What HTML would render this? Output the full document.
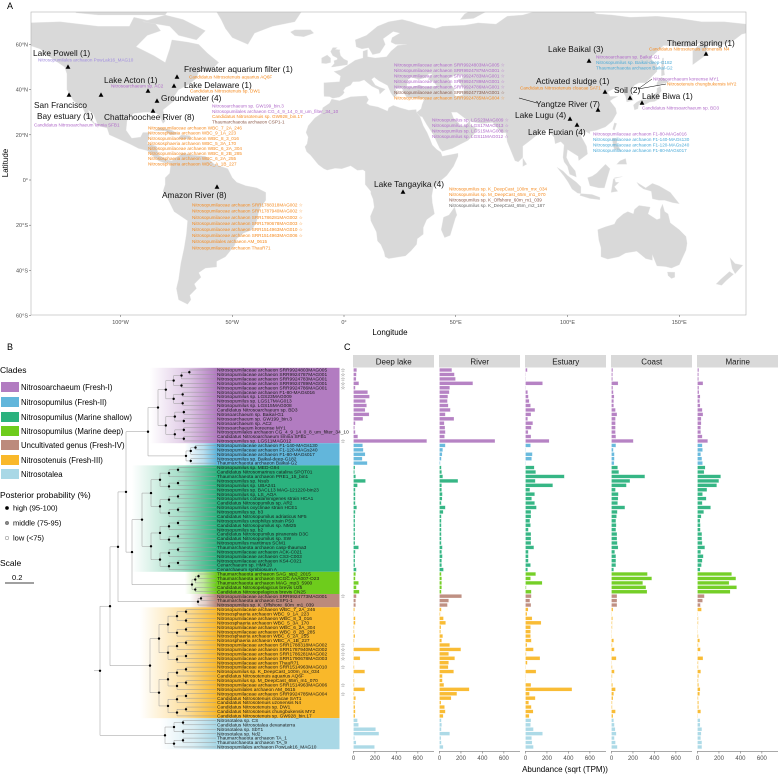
<!DOCTYPE html>
<html><head><meta charset="utf-8">
<style>
html,body{margin:0;padding:0;background:#fff;}
svg{display:block;font-family:"Liberation Sans",Arial,sans-serif;}
</style></head>
<body>
<svg id="fig" width="779" height="777" viewBox="0 0 779 777" xmlns="http://www.w3.org/2000/svg">
<defs><clipPath id="mapclip"><rect x="31" y="12" width="715" height="303"/></clipPath></defs>
<g id="mapg"></g>
<g id="treeg"></g>
<g id="barg"></g>
</svg>
<script>
const NS="http://www.w3.org/2000/svg";
function mk(parent,tag,attrs,text){const e=document.createElementNS(NS,tag);for(const k in attrs)e.setAttribute(k,attrs[k]);if(text!==undefined)e.textContent=text;parent.appendChild(e);return e;}

/* ================= MAP ================= */
const mapg=document.getElementById('mapg');
const lx=lon=>344+lon*2.235, ly=lat=>180-lat*2.26;
const landPolys=[
[[-166,68.5],[-156,71.3],[-140,69.6],[-127,70],[-110,68],[-96,68],[-94,72],[-85,70],[-82,66],[-88,64],[-93,59],[-85,55],[-80,52],[-78,58],[-77,62],[-70,61],[-65,60],[-61,56],[-56,52],[-60,48],[-65,48],[-66,45],[-70,42],[-74,40],[-76,37],[-76,35],[-81,31],[-80,26],[-81,25],[-83,29],[-85,30],[-89,30],[-94,29.5],[-97,27],[-97.5,22],[-95,18.5],[-91,19],[-90,21],[-87,21],[-88,16],[-84,15],[-83,11],[-79,9],[-77,8],[-80,7.5],[-83,8.5],[-86,11],[-88,13],[-92,14],[-96,16],[-105,20],[-106,23],[-110,24],[-112,29],[-114.5,31],[-113,27],[-110,23],[-112,25],[-115,28],[-117,32],[-121,35],[-124,40],[-124,47],[-125,50],[-131,54],[-136,58],[-142,60],[-148,60],[-152,58],[-158,56],[-164,55],[-158,58],[-162,60],[-165,62],[-164,64],[-166,66]],
[[-120,74],[-118,77],[-100,79],[-90,81],[-70,83],[-62,82],[-78,76],[-80,73],[-90,73],[-100,73],[-110,73]],
[[-80,73],[-72,71],[-62,66],[-66,62],[-74,64],[-78,68],[-90,70]],
[[-73,78],[-60,82],[-30,83.5],[-20,81],[-18,76],[-22,70],[-32,68],[-40,65],[-43,60],[-50,63],[-53,67],[-55,71],[-58,76],[-68,77]],
[[-24,65.5],[-22,66.4],[-15,66.5],[-13.5,65],[-18,63.4],[-22,63.8]],
[[-80,9],[-77,8.5],[-72,12],[-68,11],[-62,10.5],[-58,7],[-52,5],[-50,1],[-48,-1],[-44,-2.5],[-39,-3.5],[-35,-5.5],[-35,-9],[-38,-13],[-39,-18],[-41,-22],[-45,-23.5],[-48,-26],[-49,-29],[-53,-34],[-57,-36],[-57,-38.5],[-62,-39],[-65,-41],[-64,-43],[-67,-46],[-66,-48],[-69,-51],[-68.5,-53],[-70,-55],[-74,-53],[-75,-48],[-74,-44],[-73,-37],[-71.5,-30],[-70.5,-24],[-70,-18],[-76,-14],[-79,-8],[-81,-5],[-80,-2],[-80,1],[-78,3],[-77.5,7]],
[[-9,38.7],[-9,43],[-2,43.5],[-1.5,46],[-4.5,48],[-1.5,48.7],[2,51],[5,53],[8.5,54],[8.5,57],[10.5,57.7],[10.5,54.5],[14,54],[19,54.5],[21,57],[24,59.5],[28,60],[23,60],[21,61],[21.5,63],[25,65],[22,65.7],[17.5,62.5],[18.5,60],[16,56.2],[12.8,55.5],[11,58.5],[8,58],[5.5,58.9],[5,62],[10,64],[15,68],[20,70],[26,71],[30,70],[33,69],[41,67],[44,68],[54,68.5],[60,69.5],[68,69],[73,72.5],[80,73],[87,75],[100,77.5],[105,78],[113,73.5],[120,73],[128,72],[140,72.5],[150,71.5],[160,70],[170,70],[180,69],[180,65],[178,64.5],[174,61.5],[170,60],[163,59.5],[162,57],[163,56],[156,51],[156,57],[160,61],[155,59],[143,59.5],[137,54],[140,51],[140,48],[135,43],[132,43],[130,42],[128,39],[129.5,35.2],[126.5,34.5],[126,37],[124.5,39.5],[122,39],[121.5,40.8],[118,39],[119,37],[122.5,37],[120.5,36],[119,35],[121.5,31.8],[122,29.5],[120,26],[117,23.5],[113,22],[110,21.5],[110,20.5],[108,21.5],[106,19.5],[108.5,15],[109,11.5],[105,8.6],[104.8,10.5],[100,13.5],[99.5,10],[101,7],[103.5,4],[104,1.3],[101,2.5],[100,6],[98.5,8],[98,10],[98.5,15.5],[97,17],[94.5,16],[94,19],[92,21],[92,22.5],[90,22],[87,21.5],[86.5,20],[84,18],[82,16.5],[80,15],[80,10],[78,8],[76.5,8.5],[73,17],[72.5,21],[70.5,20.8],[68,23.7],[66.5,25.5],[62,25],[57,25.8],[54.5,27],[50.5,30],[48,30],[49,27.5],[51.5,25],[51.5,24],[54,24],[56.3,26.2],[56.5,24.5],[59.8,22.5],[57,18.9],[55.5,17.5],[52.5,16],[48.5,14],[44,12.7],[42.8,14],[40,20],[37,24.5],[35,28],[34,28.2],[32.5,29.9],[34.5,31.5],[35,33.5],[36,36],[32,36.2],[28,36.7],[26.5,39],[26.2,40.3],[26,40.6],[23,40.5],[24,38],[22.5,36.5],[21,38.5],[19.5,41.8],[15.5,44],[13.5,45.5],[12.3,44.5],[14,42],[16,41],[18.5,40.2],[16,38],[15.6,40],[12.5,41.5],[10.5,43],[9,44.3],[7,43.6],[4,43.5],[3,42],[0.8,41],[-0.3,39.5],[0.2,38.7],[-0.7,37.6],[-2.1,36.7],[-5,36.2],[-6.5,36.9],[-8.9,37]],
[[-17,21],[-16,24],[-13,27.5],[-10,29.5],[-9.5,32],[-6.5,34],[-5.5,35.8],[-2,35.1],[3,36.8],[10,37.2],[11,35.5],[10,34],[11.5,33],[15.2,32.3],[19.5,30.5],[20,32],[22,33],[25,32],[29,30.9],[32.3,31.2],[32.5,29.9],[34,28],[35.5,24],[37.2,21],[38.5,18],[39.5,15.5],[41.5,13.5],[43.3,12.3],[44,10.5],[51,11.8],[51,10.5],[49,6],[46,2],[43,-0.5],[40,-3],[39.3,-7],[39.5,-10],[40.5,-15],[37,-17.5],[35.5,-21],[35.5,-24],[32.8,-26],[32.5,-28.5],[30,-31.3],[27.5,-33.6],[25,-34],[20,-34.8],[18.4,-34],[18,-32],[16.5,-28.6],[15,-27],[14.5,-23],[12,-18],[11.8,-16],[13.5,-12],[13,-8.5],[12,-6],[12,-5],[9.5,-2],[9.5,1],[9.5,3.8],[8.5,4.5],[6,4.3],[3,6.3],[-1,5],[-4,5.2],[-7.5,4.4],[-9,5],[-11.5,6.8],[-13.3,9],[-15,11],[-16.7,12.5],[-17.5,14.7],[-16.5,16],[-16,19]],
[[49.5,-12],[50.5,-15.5],[49.8,-17],[47.5,-24.5],[45,-25.5],[43.5,-22],[44.5,-16.5],[47,-15.5]],
[[-5,50],[1.5,51],[1.7,52.7],[0,53.5],[-1.5,55],[-2,57],[-1.8,57.6],[-4,57.8],[-3,58.6],[-5,58.6],[-6,56.8],[-5,55],[-3,54],[-3,53.3],[-4.5,52.8],[-4.3,51.6],[-5.7,50]],
[[-6,52],[-6,54],[-7.5,55.3],[-10,54],[-10,51.7],[-8,51.5]],
[[130,31],[131.5,31.5],[132,33.8],[135,33.5],[136.8,34.5],[139,34.8],[140.8,35.8],[141,38],[142,39.5],[141.5,41.5],[140,40.5],[140,39],[139,38],[137,37],[135.5,35.5],[133,35.5],[131,34.5],[129.5,33.2]],
[[140,41.5],[141.5,42.5],[144,43],[145.5,43.4],[142,45.5],[141.5,45],[140,43]],
[[142,46],[143.5,46.5],[143,50],[143,54],[142.5,54],[142,50]],
[[120.2,22.5],[121,22],[122,25],[121,25.3]],
[[80,6],[81.8,7],[80,9.8]],
[[95.3,5.6],[98,4],[100,2],[104,-1],[106,-3],[106,-6],[104.5,-5.8],[102,-4],[100.3,-1],[98.5,1.7]],
[[105.5,-6.8],[106,-6],[111,-6.4],[114.5,-7.7],[114.5,-8.7],[110,-8.2]],
[[109,1],[110,-2.5],[114,-3.5],[116.5,-3.5],[117.8,1],[119,5],[117,7],[115,5],[113,3],[111,1.7]],
[[119.5,-5.5],[120.5,0.5],[124.5,1.5],[121,1],[121.5,-1],[123,-1],[121,-3],[122.5,-5]],
[[131,-1],[135,-3.5],[138,-1.5],[141,-2.6],[146,-5.5],[150,-10.5],[147,-10],[143.5,-9],[141,-9],[138,-8.3],[137.5,-5],[134,-4],[132,-2.5]],
[[120,18.5],[122.3,18.5],[122,16],[124,13],[121,13.5],[120.5,15]],
[[122,7],[126.5,7],[126,9.5],[123.5,8.5]],
[[113.5,-22],[114,-26.5],[115,-30],[115,-34],[118,-35],[123,-34],[126,-32.3],[131,-31.5],[135,-34.8],[138,-35.5],[138,-33],[140,-38],[144,-38.3],[146.5,-39],[150,-37.5],[153,-31],[153.5,-28],[153,-25],[150,-22],[146,-19],[145,-15],[143.5,-14],[142.5,-10.7],[141.5,-13],[141.5,-17],[140,-17.5],[136,-15],[137,-12],[132,-11.3],[130,-13],[129.5,-15],[127,-14],[125,-15],[122,-17.5],[121,-19.5],[117,-20.7]],
[[144.7,-40.7],[148,-40.8],[148,-43],[146.5,-43.6],[145,-42.3]],
[[172.7,-34.4],[175,-37],[178.5,-37.7],[177,-39.3],[175,-41.5],[173.7,-39.2]],
[[172.5,-40.5],[174.3,-41.7],[171,-44.5],[169,-46.6],[166.5,-46],[168.5,-44]],
[[11,78.5],[17,80],[27,80],[21,77],[16,76.6]],
[[52,71],[58,71.5],[68,76.8],[60,76.5],[54,73.5]],
[[-85,21.9],[-82,23.1],[-77,22],[-74.2,20.2],[-77.7,19.9],[-80,21.8]],
[[-74.5,18.3],[-72.8,19.9],[-69,19.6],[-68.4,18.5],[-71,18],[-72.5,18.2]],
[[-75,-63],[-58,-62],[-50,-65],[-60,-70],[-80,-70]]
];
const waterPolys=[
[[28,41.2],[28.7,44.5],[30,45.5],[33.5,44.5],[36.5,45.2],[38,47],[39.5,47],[37.5,44.5],[40,43.5],[41.5,41.6],[36,41.3],[34,42],[31,41.2]],
[[47,45],[50,46.5],[53,46.8],[53,45],[51,44.5],[52.5,42],[53.8,40.5],[53,37.5],[50,37],[49,38.5],[49.5,40.3],[48,42],[47.5,43.5]]
];
mk(mapg,'rect',{x:31,y:12,width:715,height:303,fill:'#ffffff',});
const landG=mk(mapg,'g',{'clip-path':'url(#mapclip)',});
landPolys.forEach(p=>mk(landG,'polygon',{points:p.map(q=>lx(q[0]).toFixed(1)+','+ly(q[1]).toFixed(1)).join(' '),fill:'#d9d9d9',stroke:'#e6e6e6','stroke-width':0.3}));
waterPolys.forEach(p=>mk(landG,'polygon',{points:p.map(q=>lx(q[0]).toFixed(1)+','+ly(q[1]).toFixed(1)).join(' '),fill:'#ffffff'}));
mk(mapg,'rect',{x:31,y:12,width:715,height:303,fill:'none',stroke:'#b3b3b3','stroke-width':0.6,});

const latTicks=[60,40,20,0,-20,-40,-60];
const latLabels=['60°N','40°N','20°N','0°','20°S','40°S','60°S'];
latTicks.forEach((t,i)=>{mk(mapg,'line',{x1:29,x2:31,y1:ly(t),y2:ly(t),stroke:'#555','stroke-width':0.5});
 const e=mk(mapg,'text',{x:28,y:ly(t)+2,'font-size':5.5,fill:'#4d4d4d','text-anchor':'end'},latLabels[i]);
 });
const lonTicks=[-100,-50,0,50,100,150];
const lonLabels=['100°W','50°W','0°','50°E','100°E','150°E'];
lonTicks.forEach((t,i)=>{mk(mapg,'line',{x1:lx(t),x2:lx(t),y1:315,y2:317,stroke:'#555','stroke-width':0.5});
 const e=mk(mapg,'text',{x:lx(t),y:324,'font-size':5.5,fill:'#4d4d4d','text-anchor':'middle'},lonLabels[i]);
 });
mk(mapg,'text',{x:390,y:335,'font-size':8,fill:'#000','text-anchor':'middle',},'Longitude');
mk(mapg,'text',{x:8,y:163,'font-size':8,fill:'#000','text-anchor':'middle',transform:'rotate(-90 8 163)',},'Latitude');
mk(mapg,'text',{x:7,y:9,'font-size':9,fill:'#000',},'A');

const triangles=[[68,67],[148,91],[177,77],[174,86],[157,101],[69,95],[101,95],[153,111],[217,187],[403,192],[589,61],[706,54],[605,92],[630,98],[642,103],[598,110],[570,119],[577,125]];
triangles.forEach(t=>{const e=mk(mapg,'polygon',{points:`${t[0]},${t[1]-2.6} ${t[0]-2.4},${t[1]+1.8} ${t[0]+2.4},${t[1]+1.8}`,fill:'#000'});
 });
const bigLabels=[['Lake Powell (1)',33,53],['Lake Acton (1)',104,80],['Freshwater aquarium filter (1)',184,69],['Lake Delaware (1)',184,85],['Groundwater (4)',161,98],['San Francisco',34,105],['Bay estuary (1)',37,116],['Chattahoochee River (8)',104,117],['Amazon River (8)',162,195],['Lake Tangayika (4)',374,184],['Lake Baikal (3)',548,49],['Thermal spring (1)',667,43],['Activated sludge (1)',536,81],['Soil (2)',614,90],['Lake Biwa (1)',642,96],['Yangtze River (7)',536,104],['Lake Lugu (4)',515,115],['Lake Fuxian (4)',528,132]];
bigLabels.forEach(b=>{const e=mk(mapg,'text',{x:b[1],y:b[2]+3,'font-size':8.3,fill:'#111'},b[0]);
 });
const P='#b069c9',O='#f58a1f',BL='#4aaad8',BR='#8b5a4a',G='#666',LV='#a08ce0';
const smallLists=[
[38,60,5.4,[['Nitrosopumilales archaeon PowLak16_MAG10',LV]]],
[111,86,5.4,[['Nitrosoarchaeum sp. AC2',P]]],
[189,77,5.4,[['Candidatus Nitrosotenuis aquarius AQ6F',O]]],
[190,91,5.4,[['Candidatus Nitrosotenuis sp. DW1',O]]],
[212,106,5.3,[['Nitrosoarchaeum sp. GW199_bin.3',P],['Nitrosopumilales archaeon CG_4_9_14_0_8_um_filter_34_10',P],['Candidatus Nitrosotenuis sp. GW928_bin.17',O],['Thaumarchaeota archaeon CSP1-1',BR]]],
[34,125,5.4,[['Candidatus Nitrosoarchaeum limnia SFB1',P]]],
[148,128,5.1,[['Nitrosopumilaceae archaeon WBC_7_2A_246',O],['Nitrososphaeria archaeon WBC_9_1A_223',O],['Nitrosopumilaceae archaeon WBC_8_3_016',O],['Nitrososphaeria archaeon WBC_5_3A_170',O],['Nitrosopumilaceae archaeon WBC_6_2A_304',O],['Nitrosopumilaceae archaeon WBC_8_2B_285',O],['Nitrososphaeria archaeon WBC_6_2A_255',O],['Nitrososphaeria archaeon WBC_A_1B_227',O]]],
[192,205,6.1,[['Nitrosopumilaceae archaeon SRR1788318MAG002 ☆',O],['Nitrosopumilaceae archaeon SRR1787940MAG002 ☆',O],['Nitrosopumilaceae archaeon SRR1786281MAG002 ☆',O],['Nitrosopumilaceae archaeon SRR1790678MAG003 ☆',O],['Nitrosopumilaceae archaeon SRR1514963MAG010 ☆',O],['Nitrosopumilaceae archaeon SRR1514963MAG006 ☆',O],['Nitrosopumilales archaeon AM_0615',O],['Nitrosopumilaceae archaeon ThauR71',O]]],
[449,189,5.5,[['Nitrosopumilus sp. K_DeepCast_100m_mx_034',O],['Nitrosopumilus sp. M_DeepCast_65m_m1_070',O],['Nitrosopumilus sp. K_Offshore_60m_m1_039',BR],['Nitrosopumilus sp. K_DeepCast_65m_m2_187',G]]],
[394,65,5.5,[['Nitrosopumilaceae archaeon SRR9924803MAG005 ☆',P],['Nitrosopumilaceae archaeon SRR9924787MAG001 ☆',P],['Nitrosopumilaceae archaeon SRR9924783MAG001 ☆',P],['Nitrosopumilaceae archaeon SRR9924789MAG001 ☆',P],['Nitrosopumilaceae archaeon SRR9924786MAG001 ☆',P],['Nitrosopumilaceae archaeon SRR9924773MAG001 ☆',BR],['Nitrosopumilaceae archaeon SRR9924785MAG004 ☆',O]]],
[596,57,5.5,[['Nitrosoarchaeum sp. Baikal-G1',P],['Nitrosopumilus sp. Baikal-deep-G182',BL],['Thaumarchaeota archaeon Baikal-G2',BL]]],
[649,49,5.4,[['Candidatus Nitrosotenuis uzonensis N4',O]]],
[520,88,5.4,[['Candidatus Nitrosotenuis cloacae SAT1',O]]],
[653,79,5.4,[['Nitrosoarchaeum koreense MY1',P]]],
[667,84,5.4,[['Nitrosotenuis chungbukensis MY2',O]]],
[642,108,5.4,[['Candidatus Nitrosoarchaeum sp. BD3',P]]],
[432,120,5.5,[['Nitrosopumilus sp. LGS23MAG009 ☆',P],['Nitrosopumilus sp. LGS17MAG013 ☆',P],['Nitrosopumilus sp. LGS15MAG008 ☆',P],['Nitrosopumilus sp. LGS11MAG012 ☆',P]]],
[593,134,5.4,[['Nitrosopumilaceae archaeon F1-80-MAGs016',P],['Nitrosopumilaceae archaeon F1-140-MAGs130',BL],['Nitrosopumilaceae archaeon F1-120-MAGs240',BL],['Nitrosopumilaceae archaeon F1-80-MAGs017',BL]]]
];
smallLists.forEach(l=>l[3].forEach((it,i)=>{const e=mk(mapg,'text',{x:l[0],y:l[1]+i*l[2]+1.6,'font-size':4.6,fill:it[1]},it[0]);
 }));
mk(mapg,'line',{x1:519,y1:98,x2:537,y2:103,stroke:'#000','stroke-width':0.6});
mk(mapg,'line',{x1:638,y1:89,x2:652,y2:79,stroke:'#000','stroke-width':0.5});
mk(mapg,'line',{x1:638,y1:89,x2:666,y2:84,stroke:'#000','stroke-width':0.5});

/* ================= DATA ================= */
const cladeNames=['Nitrosoarchaeum (Fresh-I)','Nitrosopumilus (Fresh-II)','Nitrosopumilus (Marine shallow)','Nitrosopumilus (Marine deep)','Uncultivated genus (Fresh-IV)','Nitrosotenuis (Fresh-III)','Nitrosotalea'];
const cladeColors=['#b27cc1','#62b6db','#2bb27e','#6ecc1c','#bc8a7c','#f9b82a','#a9d8e6'];
const cladeSizes=[17,5,24,5,3,25,7];
const leafNames=['Nitrosopumilaceae archaeon SRR9924803MAG005','Nitrosopumilaceae archaeon SRR9924787MAG001','Nitrosopumilaceae archaeon SRR9924783MAG001','Nitrosopumilaceae archaeon SRR9924789MAG001','Nitrosopumilaceae archaeon SRR9924786MAG001','Nitrosopumilaceae archaeon F1-80-MAGs016','Nitrosopumilus sp. LGS23MAG009','Nitrosopumilus sp. LGS17MAG013','Nitrosopumilus sp. LGS15MAG008','Candidatus Nitrosoarchaeum sp. BD3','Nitrosoarchaeum sp. Baikal-G1','Nitrosoarchaeum sp. GW199_bin.3','Nitrosoarchaeum sp. AC2','Nitrosoarchaeum koreense MY1','Nitrosopumilales archaeon CG_4_9_14_0_8_um_filter_34_10','Candidatus Nitrosoarchaeum limnia SFB1','Nitrosopumilus sp. LGS11MAG012',
'Nitrosopumilaceae archaeon F1-140-MAGs130','Nitrosopumilaceae archaeon F1-120-MAGs240','Nitrosopumilaceae archaeon F1-80-MAGs017','Nitrosopumilus sp. Baikal-deep-G182','Thaumarchaeota archaeon Baikal-G2',
'Nitrosopumilus sp. MED-G94','Candidatus Nitrosomarinus catalina SPOT01','Thaumarchaeota archaeon PRE1_15_bin1','Nitrosopumilus sp. Nsub','Nitrosopumilus sp. UBA241','Nitrosopumilus sp. BACL13 MAG-121220-bin23','Nitrosopumilus sp. LS_AOA','Nitrosopumilus cobalaminigenes strain HCA1','Candidatus Nitrosopumilus sp. AR2','Nitrosopumilus oxyclinae strain HCE1','Nitrosopumilus sp. b3','Candidatus Nitrosopumilus adriaticus NF5','Nitrosopumilus ureiphilus strain PS0','Candidatus Nitrosopumilus sp. NM25','Nitrosopumilus sp. b2','Candidatus Nitrosopumilus piranensis D3C','Candidatus Nitrosopumilus sp. SW','Nitrosopumilus maritimus SCM1','Thaumarchaeota archaeon casp-thauma3','Nitrosopumilaceae archaeon ACK-C021','Nitrosopumilaceae archaeon CS3-C003','Nitrosopumilaceae archaeon KS4-C021','Cenarchaeum sp. HMK20','Cenarchaeum symbiosum A',
'Thaumarchaeota archaeon SAG_sip2_2015','Thaumarchaeota archaeon SCGC AAA007-O23','Thaumarchaeota archaeon MAG_mp3_5900','Candidatus Nitrosopelagicus brevis U25','Candidatus Nitrosopelagicus brevis CN25',
'Nitrosopumilaceae archaeon SRR9924773MAG001','Thaumarchaeota archaeon CSP1-1','Nitrosopumilus sp. K_Offshore_60m_m1_039',
'Nitrosopumilaceae archaeon WBC_7_2A_246','Nitrososphaeria archaeon WBC_9_1A_223','Nitrosopumilaceae archaeon WBC_8_3_016','Nitrososphaeria archaeon WBC_5_3A_170','Nitrosopumilaceae archaeon WBC_6_2A_304','Nitrosopumilaceae archaeon WBC_8_2B_285','Nitrososphaeria archaeon WBC_6_2A_255','Nitrososphaeria archaeon WBC_A_1B_227','Nitrosopumilaceae archaeon SRR1788318MAG002','Nitrosopumilaceae archaeon SRR1787940MAG002','Nitrosopumilaceae archaeon SRR1786281MAG002','Nitrosopumilaceae archaeon SRR1790678MAG003','Nitrosopumilaceae archaeon ThauR71','Nitrosopumilaceae archaeon SRR1514963MAG010','Nitrosopumilus sp. K_DeepCast_100m_mx_034','Candidatus Nitrosotenuis aquarius AQ6F','Nitrosopumilus sp. M_DeepCast_65m_m1_070','Nitrosopumilaceae archaeon SRR1514963MAG006','Nitrosopumilales archaeon AM_0615','Nitrosopumilaceae archaeon SRR9924785MAG004','Candidatus Nitrosotenuis cloacae SAT1','Candidatus Nitrosotenuis uzonensis N4','Candidatus Nitrosotenuis sp. DW1','Candidatus Nitrosotenuis chungbukensis MY2','Candidatus Nitrosotenuis sp. GW928_bin.17',
'Nitrosotalea sp. CS','Candidatus Nitrosotalea devanaterra','Nitrosotalea sp. SbT1','Nitrosotalea sp. Nd2','Thaumarchaeota archaeon TA_1','Thaumarchaeota archaeon TA_9','Nitrosopumilales archaeon PowLak16_MAG10'];
const starred=[0,1,2,3,4,16,51,62,63,64,65,67,71,73];
const facetNames=['Deep lake','River','Estuary','Coast','Marine'];
const deepLake=[30,27,24,50,17,132,149,112,122,108,145,88,17,10,17,40,683, 85,91,108,81,128, 14,10,20,112,37,17,17,17,17,30,17,14,14,14,14,14,14,14,47,17,14,14,14,27, 20,17,47,27,54, 27,20,20, 10,0,17,17,7,7,14,7,3,243,3,61,0,7,105,3,7,7,105,7,20,10,14,17,14, 37,47,206,237,10,24,196];
const river=[115,139,149,311,95,91,78,74,81,101,54,135,44,51,54,47,517, 54,30,24,17,7, 17,20,30,172,20,20,27,24,17,54,34,17,17,17,17,17,17,17,27,20,27,20,20,37, 17,20,20,20,17, 206,85,74, 17,7,37,57,14,10,30,20,95,199,85,142,85,81,132,27,27,41,277,162,108,14,47,54,34, 17,20,17,95,14,17,34];
const estuary=[17,3,3,159,3,20,27,34,47,88,51,20,68,54,24,51,220, 47,3,64,57,2, 81,95,362,91,254,41,85,57,85,102,51,51,41,47,27,51,51,51,78,27,27,27,47,20, 95,47,155,7,54, 54,41,51, 24,14,61,145,47,47,47,54,14,74,7,135,17,3,98,3,0,51,433,37,91,30,54,71,34, 51,47,74,159,57,61,74];
const coast=[13,10,10,61,13,17,24,20,20,37,51,37,37,37,37,41,203, 41,17,27,27,24, 57,68,311,172,139,37,64,61,57,125,54,47,41,44,41,51,51,54,61,30,41,41,41,20, 335,375,291,321,331, 51,51,51, 14,0,10,7,7,3,3,20,7,27,0,44,3,7,27,7,3,10,37,20,14,7,7,37,14, 20,27,34,44,27,37,54];
const marine=[13,10,10,51,13,14,24,20,24,44,51,34,34,30,30,44,95, 44,47,30,41,47, 71,61,216,199,179,88,47,81,44,122,58,34,24,27,27,41,41,44,68,30,54,44,37,24, 318,358,294,365,304, 64,47,27, 37,3,7,7,3,3,7,20,7,27,3,51,7,7,30,10,7,10,24,20,7,10,10,30,3, 24,24,41,34,30,41,41];
const facetValues=[deepLake,river,estuary,coast,marine];
const xTicks=[0,200,400,600];

const N=leafNames.length;
const rowY=i=>370+i*4.435;
const cladeOf=[];cladeSizes.forEach((s,c)=>{for(let k=0;k<s;k++)cladeOf.push(c);});
const cladeStart=[];{let s=0;cladeSizes.forEach(v=>{cladeStart.push(s);s+=v;});}

/* ================= TREE ================= */
const treeg=document.getElementById('treeg');
mk(treeg,'text',{x:7,y:350,'font-size':9,fill:'#000',},'B');
const bandStart=[150,185,132,185,190,140,160];
cladeColors.forEach((c,k)=>{
  const g=mk(document.querySelector('defs'),'linearGradient',{id:'gr'+k,x1:0,x2:1,y1:0,y2:0});
  mk(g,'stop',{offset:0,'stop-color':c,'stop-opacity':0});
  mk(g,'stop',{offset:0.6,'stop-color':c,'stop-opacity':0.45});
  mk(g,'stop',{offset:1,'stop-color':c,'stop-opacity':1});
  const y0=rowY(cladeStart[k])-2.2, h=cladeSizes[k]*4.435;
  const e1=mk(treeg,'rect',{x:bandStart[k],y:y0,width:216-bandStart[k],height:h,fill:'url(#gr'+k+')'});
  
  const e2=mk(treeg,'rect',{x:216,y:y0,width:123.5,height:h,fill:c});
  
});
const edgeG=mk(treeg,'g',{stroke:'#9a9a9a','stroke-width':0.5,fill:'none'});
const dots=[];
function sub(lo,hi,x){
  if(lo===hi) return {x:216,y:rowY(lo)};
  const mid=Math.floor((lo+hi)/2);
  const depth=Math.ceil(Math.log2(hi-lo+1));
  const step=Math.max(3,Math.min(9,(205-x)/(depth+1)));
  const a=sub(lo,mid,x+step), b=sub(mid+1,hi,x+step);
  mk(edgeG,'line',{x1:x,x2:x,y1:a.y,y2:b.y});
  mk(edgeG,'line',{x1:x,x2:a.x,y1:a.y,y2:a.y});
  mk(edgeG,'line',{x1:x,x2:b.x,y1:b.y,y2:b.y});
  const y=(a.y+b.y)/2; dots.push([x,y]); return {x:x,y:y};
}
function join(a,b,x){mk(edgeG,'line',{x1:x,x2:x,y1:a.y,y2:b.y});mk(edgeG,'line',{x1:x,x2:a.x,y1:a.y,y2:a.y});mk(edgeG,'line',{x1:x,x2:b.x,y1:b.y,y2:b.y});const y=(a.y+b.y)/2;dots.push([x,y]);return {x:x,y:y};}
const cr=[158,186,142,192,198,150,165];
const roots=cladeSizes.map((s,k)=>sub(cladeStart[k],cladeStart[k]+s-1,cr[k]));
const A=join(roots[0],roots[1],148), B=join(roots[2],roots[3],132), C=join(A,B,126), D=join(C,roots[4],118), E=join(D,roots[5],110), R=join(E,roots[6],100);
mk(edgeG,'line',{x1:94,x2:100,y1:R.y,y2:R.y});
dots.forEach(d=>{const e=mk(treeg,'circle',{cx:d[0],cy:d[1],r:1.2,fill:'#000'});});
leafNames.forEach((n,i)=>{const e=mk(treeg,'text',{x:217,y:rowY(i)+1.6,'font-size':4.8,fill:'#1a1a1a'},n);
  });
starred.forEach(i=>{const e=mk(treeg,'text',{x:340.5,y:rowY(i)+2,'font-size':5.5,fill:'#555'},'☆');
  });
// legend
mk(treeg,'text',{x:0,y:373,'font-size':8.5,fill:'#000',},'Clades');
const legY=[387,402,417,431,445,460,474];
cladeNames.forEach((n,k)=>{
  const r=mk(treeg,'rect',{x:1,y:legY[k]-5,width:18,height:10,fill:cladeColors[k]});
  
  const t=mk(treeg,'text',{x:21,y:legY[k]+3,'font-size':7.8,fill:'#000'},n);
  
});
mk(treeg,'text',{x:0,y:498,'font-size':8.5,fill:'#000',},'Posterior probability (%)');
[['high (95-100)','#000',508],['middle (75-95)','#888',523],['low (<75)','#fff',538]].forEach(p=>{
  const c=mk(treeg,'circle',{cx:7,cy:p[2],r:1.8,fill:p[1],stroke:'#555','stroke-width':0.4});
  
  const t=mk(treeg,'text',{x:13,y:p[2]+2.6,'font-size':7.5,fill:'#000'},p[0]);
  
});
mk(treeg,'text',{x:0,y:566,'font-size':8.5,fill:'#000',},'Scale');
mk(treeg,'text',{x:12,y:580,'font-size':7.5,fill:'#000',},'0.2');
mk(treeg,'line',{x1:5,x2:34,y1:583,y2:583,stroke:'#000','stroke-width':0.7,});

/* ================= BARS ================= */
const barg=document.getElementById('barg');
mk(barg,'text',{x:344,y:350,'font-size':9,fill:'#000',},'C');
const facetX0=[353.5,439.5,525.5,611.5,697.5], facetW=80.5, pxPer=0.1073;
facetNames.forEach((f,fi)=>{
  const x0=facetX0[fi];
  const hd=mk(barg,'rect',{x:x0-0.5,y:355,width:facetW+0.5,height:12.5,fill:'#d9d9d9'});
  
  const ht=mk(barg,'text',{x:x0+facetW/2,y:364.5,'font-size':8,fill:'#1a1a1a','text-anchor':'middle'},f);
  
  const vals=facetValues[fi];
  vals.forEach((v,i)=>{
    const b=mk(barg,'rect',{x:x0,y:rowY(i)-1.8,width:Math.max(0.3,v*pxPer),height:3.6,fill:cladeColors[cladeOf[i]],stroke:'#fff','stroke-width':0.2,'fill-opacity':0.95});
    
  });
  mk(barg,'line',{x1:x0-0.5,x2:x0+facetW,y1:751.5,y2:751.5,stroke:'#555','stroke-width':0.6});
  xTicks.forEach(t=>{const tx=x0+t*pxPer;
    mk(barg,'line',{x1:tx,x2:tx,y1:751.5,y2:753.5,stroke:'#555','stroke-width':0.5});
    const e=mk(barg,'text',{x:tx,y:760,'font-size':6,fill:'#4d4d4d','text-anchor':'middle'},String(t));
    });
});
mk(barg,'text',{x:565,y:772,'font-size':8,fill:'#000','text-anchor':'middle',},'Abundance (sqrt (TPM))');
</script>
</body></html>
